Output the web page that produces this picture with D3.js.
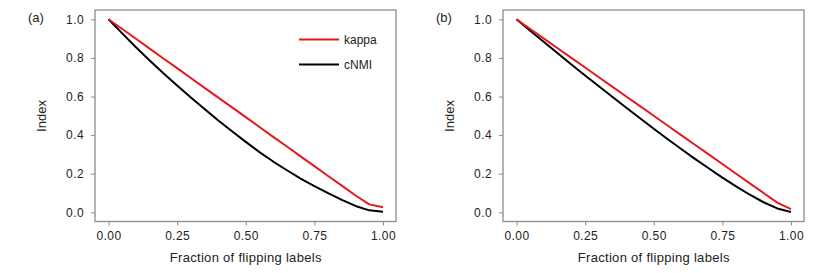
<!DOCTYPE html>
<html>
<head>
<meta charset="utf-8">
<script src="https://cdn.jsdelivr.net/npm/d3@7"></script>
<style>
  body { margin: 0; background: #fff; }
  text { font-family: "Liberation Sans", Arial, sans-serif; fill: #222; }
</style>
</head>
<body>
<svg id="chart" width="817" height="273"></svg>
<script>
/* fraction of flipping labels, shared by both panels */
var fractions = [0, 0.05, 0.10, 0.15, 0.20, 0.25, 0.30, 0.35, 0.40, 0.45, 0.50,
                 0.55, 0.60, 0.65, 0.70, 0.75, 0.80, 0.85, 0.90, 0.95, 1.00];

/* panel (a) */
var kappaA = [1.000, 0.950, 0.899, 0.848, 0.797, 0.747, 0.696, 0.645, 0.594, 0.544, 0.493,
              0.442, 0.391, 0.341, 0.290, 0.239, 0.188, 0.138, 0.087, 0.041, 0.026];
var cnmiA  = [1.000, 0.927, 0.855, 0.787, 0.720, 0.657, 0.595, 0.535, 0.476, 0.420, 0.365,
              0.312, 0.263, 0.218, 0.175, 0.136, 0.099, 0.064, 0.033, 0.010, 0.003];

/* panel (b) */
var kappaB = [1.000, 0.950, 0.900, 0.850, 0.800, 0.750, 0.700, 0.650, 0.600, 0.550, 0.500,
              0.450, 0.400, 0.350, 0.300, 0.250, 0.200, 0.150, 0.100, 0.050, 0.016];
var cnmiB  = [1.000, 0.941, 0.882, 0.824, 0.766, 0.709, 0.653, 0.597, 0.542, 0.487, 0.433,
              0.380, 0.328, 0.277, 0.228, 0.180, 0.134, 0.091, 0.052, 0.020, 0.002];

var xTicks = [0, 0.25, 0.5, 0.75, 1];
var yTicks = [0, 0.2, 0.4, 0.6, 0.8, 1.0];
var seriesNames = ["kappa", "cNMI"];
var colors = { "kappa": "#e31a1c", "cNMI": "#000" };

var svg = d3.select("#chart");

/* scales for one panel, the second panel is just shifted */
var x = d3.scaleLinear().domain([0, 1]).range([108.5, 383]);
var y = d3.scaleLinear().domain([0, 1]).range([212.3, 19.3]);

var box = { left: 95, right: 396, top: 10, bottom: 221.5 };

var line = d3.line()
  .x(function(d) { return x(d.f); })
  .y(function(d) { return y(d.v); });

drawPanel(0, "(a)", kappaA, cnmiA, true);
drawPanel(408, "(b)", kappaB, cnmiB, false);

function drawPanel(offset, label, kappa, cnmi, legend) {
  var g = svg.append("g").attr("transform", "translate(" + offset + ",0)");

  /* box around the plot */
  g.append("rect")
    .attr("x", box.left)
    .attr("y", box.top)
    .attr("width", box.right - box.left)
    .attr("height", box.bottom - box.top)
    .attr("fill", "none")
    .attr("stroke", "#8c8c8c")
    .attr("stroke-width", 1.3);

  var xAxis = g.append("g")
    .attr("transform", "translate(0," + box.bottom + ")")
    .call(d3.axisBottom(x).tickValues(xTicks).tickSize(4).tickPadding(6)
      .tickFormat(d3.format(".2f")));

  var yAxis = g.append("g")
    .attr("transform", "translate(" + box.left + ",0)")
    .call(d3.axisLeft(y).tickValues(yTicks).tickSize(4).tickPadding(7)
      .tickFormat(d3.format(".1f")));

  [xAxis, yAxis].forEach(function(a) {
    a.select(".domain").remove();
    a.selectAll(".tick line").attr("stroke", "#8c8c8c");
    a.selectAll(".tick text")
      .attr("font-size", 12)
      .attr("font-family", "Liberation Sans, Arial, sans-serif")
      .attr("fill", "#222")
      .style("letter-spacing", "0.4px");
  });

  g.append("text")
    .attr("transform", "translate(46,116) rotate(-90)")
    .attr("text-anchor", "middle")
    .attr("font-size", 13)
    .text("Index");

  g.append("text")
    .attr("x", (x(0) + x(1)) / 2)
    .attr("y", 262)
    .attr("text-anchor", "middle")
    .attr("font-size", 13)
    .style("letter-spacing", "0.3px")
    .text("Fraction of flipping labels");

  g.append("text")
    .attr("x", 28)
    .attr("y", 22)
    .attr("font-size", 13)
    .text(label);

  var series = [
    { name: "kappa", values: kappa },
    { name: "cNMI", values: cnmi }
  ];

  /* cNMI first, kappa on top */
  series.slice().reverse().forEach(function(s) {
    var pts = fractions.map(function(f, i) { return { f: f, v: s.values[i] }; });
    g.append("path")
      .datum(pts)
      .attr("d", line)
      .attr("fill", "none")
      .attr("stroke", colors[s.name])
      .attr("stroke-width", 2)
      .attr("stroke-linejoin", "round");
  });

  if (legend) {
    var lg = g.selectAll(".legend")
      .data(seriesNames)
      .enter()
      .append("g")
      .attr("class", "legend")
      .attr("transform", function(d, i) { return "translate(299," + (39.5 + i * 25) + ")"; });

    lg.append("line")
      .attr("x1", 0)
      .attr("x2", 40)
      .attr("stroke", function(d) { return colors[d]; })
      .attr("stroke-width", 2);

    lg.append("text")
      .attr("x", 45)
      .attr("dy", "0.35em")
      .attr("font-size", 12)
      .text(function(d) { return d; });
  }
}
</script>
</body>
</html>
